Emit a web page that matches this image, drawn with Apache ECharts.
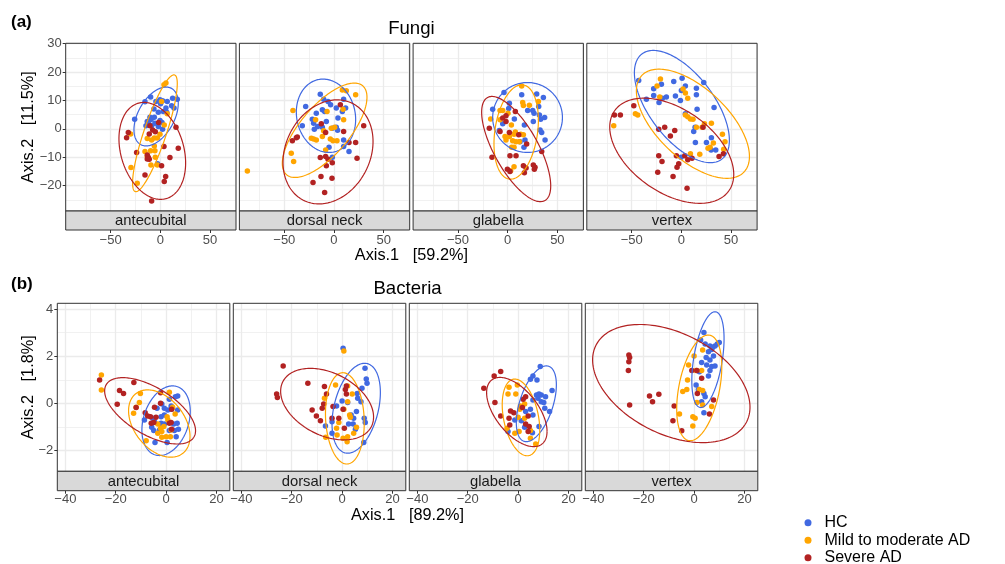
<!DOCTYPE html>
<html><head><meta charset="utf-8">
<script src="https://cdn.jsdelivr.net/npm/echarts@6/dist/echarts.min.js"></script>
<style>html,body{margin:0;padding:0;background:#fff}#c{width:1005px;height:564px}</style>
</head><body><div id="c"></div>
<script>
// ---------- categories ----------
const sites = ['antecubital', 'dorsal neck', 'glabella', 'vertex'];
const groups = ['HC', 'Mild to moderate AD', 'Severe AD'];

// ---------- tick labels ----------
const fungiXTicks = [-50, 0, 50];
const fungiXMinor = [-75, -25, 25, 75];
const fungiYTicks = [-20, -10, 0, 10, 20, 30];
const fungiYMinor = [-25, -15, -5, 5, 15, 25];
const bacteriaXTicks = [-40, -20, 0, 20];
const bacteriaXMinor = [-30, -10, 10];
const bacteriaYTicks = [-2, 0, 2, 4];
const bacteriaYMinor = [-1, 1, 3];

// ---------- Fungi points [Axis.1, Axis.2] ----------
const fungiAntecubitalHC = [[-25.8,3.4],[-15.4,9.5],[-9.7,11.2],[-4.4,9.6],[-0.3,10.2],[2.3,9.9],[0.3,8.8],[7.0,9.6],[12.4,10.8],[17.1,10.4],[11.4,8.1],[13.8,7.3],[5.7,7.3],[6.4,5.8],[3.0,6.1],[-6.4,7.0],[-2.0,5.8],[-6.0,4.1],[-10.4,4.1],[-13.1,2.6],[-9.7,3.2],[-12.1,2.2],[-14.4,1.1],[-8.7,1.1],[-0.3,2.9],[1.7,2.2],[-2.0,0.8],[2.3,-0.1],[-2.7,-12.3],[-8.7,3.6],[-5.4,2.0]];
const fungiAntecubitalMild = [[5.7,16.1],[3.7,15.5],[1.3,9.6],[7.0,5.3],[4.0,1.4],[-29.9,-1.8],[-13.1,-3.4],[-8.7,-3.9],[-6.0,-3.2],[-3.0,-3.2],[-0.3,-1.9],[-6.0,-6.0],[-15.4,-8.0],[-9.7,-7.7],[-5.4,-7.7],[-5.0,-10.0],[-9.4,-12.7],[-3.0,-12.7],[-29.5,-13.6],[-23.2,-19.1],[-13.1,-9.7]];
const fungiAntecubitalSevere = [[-32.2,-1.3],[-33.9,-3.1],[-23.8,-8.3],[-13.1,-9.2],[-12.1,-10.0],[-11.1,-10.7],[-13.1,-10.6],[-15.4,-16.2],[-10.4,1.1],[-7.7,-0.4],[-11.1,-1.8],[3.7,-6.2],[9.7,-10.1],[18.1,-6.8],[15.8,0.6],[1.3,-13.0],[5.4,-16.8],[4.0,-18.5],[-8.7,-25.4],[-1.7,2.2],[-5.0,-1.0]];

const fungiDorsalHC = [[-13.8,12.2],[-10.4,10.4],[-6.0,9.6],[-3.4,8.5],[-11.7,6.7],[-9.4,6.1],[-17.8,5.5],[-28.5,7.9],[2.3,7.3],[8.4,6.1],[9.7,10.4],[11.7,7.3],[-21.8,3.4],[-20.5,2.0],[-16.4,0.8],[-19.8,-0.1],[-11.7,0.6],[-7.7,2.6],[-1.7,0.2],[2.3,0.6],[4.0,3.8],[-31.9,1.1],[9.7,-3.9],[9.7,-6.2],[15.1,-8.0],[-5.0,-6.5],[-1.7,-10.0],[3.6,-0.5]];
const fungiDorsalMild = [[-87.2,-14.8],[-41.3,6.5],[-43.0,-8.6],[-40.6,-11.5],[8.4,13.7],[12.4,13.4],[21.8,12.0],[9.7,3.2],[-7.0,6.1],[-18.5,3.2],[-22.8,-3.3],[-20.5,-3.6],[-17.8,-3.9],[-11.7,-2.7],[-10.4,-0.7],[-2.7,0.2],[0.7,0.6],[-3.7,-3.6],[-1.0,-4.2],[3.0,-4.2],[-8.4,-7.4],[9.1,6.9]];
const fungiDorsalSevere = [[-36.9,-2.9],[-41.9,-4.2],[-37.9,-3.1],[-12.8,1.8],[-8.4,-1.3],[6.4,8.5],[9.7,-0.9],[29.9,1.1],[15.1,-4.8],[21.8,-4.8],[-8.4,-9.7],[-13.8,-10.1],[-6.0,-10.7],[-1.7,-11.9],[-7.7,-13.0],[23.2,-10.3],[-21.1,-18.9],[-13.1,-16.8],[-2.0,-17.4],[-9.4,-22.4]];

const fungiGlabellaHC = [[-3.7,12.8],[14.1,12.0],[29.2,12.3],[35.9,11.0],[1.7,9.0],[-15.1,6.9],[1.0,7.2],[20.1,6.5],[25.2,6.5],[26.5,5.5],[31.9,4.9],[33.2,3.4],[37.2,4.0],[25.8,2.6],[6.7,3.5],[16.8,1.4],[-5.0,1.8],[-8.4,-0.6],[32.6,-0.4],[34.2,-1.3],[37.6,-3.9],[17.4,-3.9],[16.4,-6.5],[12.4,-4.5],[31.2,7.9]];
const fungiGlabellaMild = [[14.1,15.1],[15.1,9.3],[15.8,8.2],[21.8,8.3],[30.9,9.6],[-7.7,6.5],[-5.0,6.5],[0.3,5.5],[-17.1,3.5],[-7.7,3.2],[3.7,1.4],[7.7,-1.1],[6.4,-1.9],[-2.7,-2.7],[1.7,-2.7],[-1.7,-3.9],[13.1,-1.9],[15.8,-2.1],[5.0,-4.2],[8.4,-4.5],[11.7,-4.5],[4.0,-6.5],[6.4,-6.5],[6.4,-13.3],[3.0,-14.7]];
const fungiGlabellaSevere = [[-18.5,0.2],[-5.0,3.8],[-1.7,2.6],[7.7,6.1],[-7.7,-0.9],[1.7,-1.3],[11.1,-2.1],[19.1,-5.3],[-15.8,-10.0],[2.3,-9.5],[8.4,-9.5],[-0.3,-14.2],[2.3,-15.0],[15.8,-13.0],[18.5,-13.8],[16.8,-15.4],[25.8,-12.7],[27.5,-13.5],[26.8,-14.2],[34.2,-8.0],[-1.7,4.6]];

const fungiVertexHC = [[-43.0,17.0],[-20.1,15.7],[-7.7,16.7],[0.7,17.8],[4.0,15.1],[15.1,14.3],[22.5,16.3],[-27.9,14.1],[-27.9,11.7],[-35.2,10.4],[-22.5,9.3],[-19.1,10.8],[-15.1,11.2],[-6.0,11.6],[-1.0,10.0],[0.0,13.5],[15.1,12.0],[15.8,6.9],[32.9,7.5],[12.4,-0.9],[13.8,0.6],[14.1,-4.8],[25.2,-4.8],[30.2,-3.1],[29.9,-7.4],[34.6,-7.4],[4.0,5.3],[-0.3,-10.0]];
const fungiVertexMild = [[-21.1,17.5],[-24.5,15.1],[1.7,14.0],[4.0,12.6],[6.4,10.8],[-21.8,11.2],[-46.3,5.3],[-43.9,4.9],[-68.1,1.1],[4.0,4.9],[6.4,4.3],[9.1,3.5],[11.7,3.4],[15.1,0.6],[23.2,1.8],[30.2,2.0],[20.8,0.6],[41.3,-1.9],[43.9,-4.5],[32.2,-5.0],[28.9,-6.5],[26.8,-6.8],[42.6,-7.2],[18.5,-8.9],[9.1,-8.8]];
const fungiVertexSevere = [[-67.4,4.9],[-61.4,4.9],[-47.9,8.1],[-22.8,-0.1],[-16.8,0.6],[-11.1,-2.5],[-6.7,-0.6],[21.8,0.6],[-22.8,-9.5],[-19.5,-11.5],[-23.8,-15.3],[-8.4,-16.8],[-5.0,-9.5],[-4.4,-13.5],[-2.7,-12.3],[3.4,-9.5],[6.4,-10.9],[10.7,-10.3],[5.7,-20.9],[37.9,-9.7],[42.3,-8.8]];

// ---------- Bacteria points ----------
const bacteriaAntecubitalHC = [[4.6,0.31],[3.7,0.28],[1.3,0.17],[-1.7,-0.03],[-3.6,-0.21],[-0.7,-0.21],[0.7,-0.28],[2.2,-0.25],[4.6,-0.28],[-8.6,-0.71],[-5.3,-0.64],[-4.6,-0.78],[-2.0,-0.85],[-1.3,-0.96],[-0.7,-0.88],[-5.7,-1.02],[-4.9,-1.16],[-4.4,-1.67],[0.4,-1.67],[1.3,-1.16],[3.3,-1.16],[4.0,-1.42],[4.9,-1.10],[3.0,-0.88],[4.4,-0.85],[-2.0,-0.57],[-0.7,-0.50],[2.0,-0.11],[-2.6,-1.13]];
const bacteriaAntecubitalMild = [[-25.7,1.20],[-25.7,0.57],[-10.2,0.42],[-10.6,0.03],[-11.9,-0.17],[-12.9,-0.42],[1.3,0.47],[2.6,-0.17],[3.6,-0.45],[0.4,-0.57],[-3.3,-0.88],[-2.2,-1.06],[-1.7,-1.20],[-0.9,-0.99],[0.0,-1.42],[-1.7,-1.44],[-3.3,-1.27],[-7.9,-1.59],[2.0,-1.13],[1.7,-1.42],[0.7,-0.71]];
const bacteriaAntecubitalSevere = [[-26.4,0.99],[-18.5,0.54],[-16.9,0.42],[-12.8,0.88],[-19.4,-0.04],[-11.9,-0.18],[-8.3,-0.40],[-7.3,-0.54],[-6.2,-0.57],[-4.6,-0.17],[-2.2,0.00],[-2.2,0.45],[-4.0,-0.59],[-5.9,-0.85],[-4.9,-0.82],[2.2,-0.25],[1.3,-0.85],[2.0,-0.82],[2.2,-1.10]];

const bacteriaDorsalHC = [[0.4,2.34],[9.1,1.49],[9.6,1.03],[9.9,0.85],[7.9,0.64],[6.0,0.42],[6.2,0.21],[7.5,0.07],[0.0,0.10],[2.2,0.03],[-2.2,-0.11],[5.7,-0.35],[4.6,-0.64],[8.8,-0.64],[9.2,-0.82],[-4.0,-0.78],[-6.6,-0.96],[2.6,-0.88],[4.4,-0.88],[5.3,-1.10],[-4.0,-1.27],[8.6,-1.67],[3.6,-0.50]];
const bacteriaDorsalMild = [[0.7,2.22],[-2.6,0.78],[2.2,0.74],[4.0,0.40],[-7.0,0.21],[2.2,0.07],[0.7,-0.25],[3.0,-0.50],[3.3,-0.59],[-1.3,-0.82],[-2.2,-1.06],[-2.0,-1.35],[0.4,-1.49],[2.2,-1.42],[2.0,-1.63],[4.6,-1.27],[5.7,-1.02],[-6.5,-1.44]];
const bacteriaDorsalSevere = [[-23.4,1.59],[-26.0,0.40],[-25.7,0.25],[-13.6,0.85],[-7.0,0.71],[-6.2,0.40],[-7.3,-0.03],[-3.6,-0.14],[-7.9,-0.21],[-11.9,-0.28],[-10.2,-0.54],[-8.6,-0.74],[-4.0,-0.64],[-1.3,-0.64],[1.7,0.74],[1.3,0.59],[1.7,0.40],[0.4,-0.25],[0.9,-1.06]];

const bacteriaGlabellaHC = [[8.8,1.56],[5.9,1.16],[7.5,0.99],[4.9,1.02],[13.5,0.54],[7.3,0.35],[8.3,0.40],[9.2,0.35],[10.9,0.28],[7.9,0.21],[9.2,0.07],[10.2,0.03],[5.9,0.14],[4.9,-0.25],[12.5,-0.35],[10.6,-0.21],[5.9,-0.50],[3.0,-0.35],[-1.3,-0.71],[1.3,-0.74],[3.0,-0.92],[8.3,-0.99],[2.6,-1.02],[5.7,-1.25],[-4.0,-1.20]];
const bacteriaGlabellaMild = [[-3.6,0.68],[-0.3,0.78],[-4.0,0.40],[-0.9,0.40],[0.9,-0.11],[2.6,-0.03],[0.7,-0.25],[2.6,-0.64],[0.0,-0.59],[-4.4,-1.06],[0.4,-1.20],[4.9,-1.16],[4.9,-1.49],[7.0,-1.73],[-1.3,-1.27]];
const bacteriaGlabellaSevere = [[-13.6,0.64],[-9.5,1.16],[-6.9,1.35],[-9.2,0.03],[-6.9,-0.54],[-3.0,-0.33],[-1.7,-0.40],[2.0,0.17],[3.0,0.28],[1.7,-0.18],[-3.6,-0.64],[-3.3,-0.92],[3.0,-0.88],[4.4,-0.99],[4.0,-0.54],[4.0,-1.20]];

const bacteriaVertexHC = [[3.9,3.01],[2.6,2.69],[4.4,2.52],[6.3,2.43],[7.4,2.38],[8.3,2.43],[9.2,2.52],[10.0,2.58],[7.0,2.29],[5.7,2.19],[4.8,1.95],[7.7,2.01],[6.3,1.84],[3.0,1.73],[5.0,1.63],[7.0,1.56],[8.3,1.59],[6.3,1.39],[5.7,1.16],[2.1,1.34],[0.8,0.78],[1.7,0.59],[3.9,0.42],[4.4,0.28],[3.0,0.07],[3.9,-0.40]];
const bacteriaVertexMild = [[3.4,2.26],[0.0,2.01],[-2.2,1.63],[0.8,1.39],[3.0,1.39],[-2.6,0.99],[-2.9,0.59],[2.1,0.59],[3.4,0.54],[-4.5,0.50],[1.1,0.03],[3.4,-0.07],[7.0,-0.14],[-5.8,-0.45],[-0.5,-0.57],[0.4,-0.64],[-0.5,-0.96]];
const bacteriaVertexSevere = [[-25.9,2.05],[-25.6,1.95],[-25.9,1.77],[-26.1,1.39],[-25.6,-0.07],[-17.7,0.31],[-14.0,0.38],[-16.5,0.07],[-7.9,-0.11],[-8.4,-0.74],[-4.9,-1.17],[1.1,1.39],[-0.9,1.39],[3.0,1.06],[1.3,0.42],[7.7,0.14],[6.1,-0.45]];

// ---------- 95% ellipses: [centre x, centre y, half-width x, half-height y, correlation] per group (HC, Mild, Severe) ----------
const fungiEllipseAntecubital = [[-4.2,4.35,22.3,10.35,0.45],[-5.4,-1.55,22.5,20.55,0.85],[-8.05,-7.75,33.55,17.05,-0.25]];
const fungiEllipseDorsal = [[-8.05,4.6,29.85,12.9,-0.1],[-9.4,-0.5,42.6,16.6,0.7],[-6.0,-8.1,45.3,18.3,0.2]];
const fungiEllipseGlabella = [[20.0,4.0,35.1,12.3,0.0],[8.55,-1.1,22.35,16.6,0.25],[8.55,-7.1,34.75,18.5,-0.7]];
const fungiEllipseVertex = [[0.5,7.85,47.8,19.75,-0.6],[11.6,1.8,56.9,19.2,-0.6],[-9.7,-7.7,62.4,18.5,-0.45]];
const bacteriaEllipseAntecubital = [[0,-0.74,9.6,1.48,0.27],[-2.7,-0.86,12.2,1.43,-0.38],[-6.35,-0.32,18.05,1.41,-0.6]];
const bacteriaEllipseDorsal = [[5.6,-0.21,9.6,1.91,0.35],[1.1,-0.64,7.7,1.94,-0.1],[-5.95,-0.035,18.45,1.52,-0.36]];
const bacteriaEllipseGlabella = [[7.25,-0.02,7.95,1.61,0.5],[1.15,-0.6,7.45,1.63,-0.33],[-0.5,-0.37,12.0,1.47,-0.56]];
const bacteriaEllipseVertex = [[5.5,1.855,6.4,2.035,0.44],[2.05,0.655,8.95,2.245,0.4],[-9.05,0.84,31.25,2.51,-0.4]];

// ---------- assembly ----------
const fungiPoints = [
  [fungiAntecubitalHC, fungiAntecubitalMild, fungiAntecubitalSevere],
  [fungiDorsalHC, fungiDorsalMild, fungiDorsalSevere],
  [fungiGlabellaHC, fungiGlabellaMild, fungiGlabellaSevere],
  [fungiVertexHC, fungiVertexMild, fungiVertexSevere]];
const bacteriaPoints = [
  [bacteriaAntecubitalHC, bacteriaAntecubitalMild, bacteriaAntecubitalSevere],
  [bacteriaDorsalHC, bacteriaDorsalMild, bacteriaDorsalSevere],
  [bacteriaGlabellaHC, bacteriaGlabellaMild, bacteriaGlabellaSevere],
  [bacteriaVertexHC, bacteriaVertexMild, bacteriaVertexSevere]];
const fungiEllipses = [fungiEllipseAntecubital, fungiEllipseDorsal, fungiEllipseGlabella, fungiEllipseVertex];
const bacteriaEllipses = [bacteriaEllipseAntecubital, bacteriaEllipseDorsal, bacteriaEllipseGlabella, bacteriaEllipseVertex];

const FONT = '"Liberation Sans", Arial, Helvetica, sans-serif';
const COLORS = ['#4169E1', '#FFA500', '#B22222'];

const rows = [
  {title: 'Fungi', tag: '(a)', xTitle: 'Axis.1   [59.2%]', yTitle: 'Axis.2   [11.5%]',
   points: fungiPoints, ellipses: fungiEllipses,
   xTicks: fungiXTicks, xMinor: fungiXMinor, yTicks: fungiYTicks, yMinor: fungiYMinor,
   xRange: [-95.2, 76.2], yRange: [-28.9, 30.1],
   left0: 65.7, step: 173.7, width: 170.3, top: 43.3, height: 167.7, strip: 19,
   xLabelMargin: 3.5, tagY: 22.5, titleY: 29.3, xTitleY: 255.5},
  {title: 'Bacteria', tag: '(b)', xTitle: 'Axis.1   [89.2%]', yTitle: 'Axis.2   [1.8%]',
   points: bacteriaPoints, ellipses: bacteriaEllipses,
   xTicks: bacteriaXTicks, xMinor: bacteriaXMinor, yTicks: bacteriaYTicks, yMinor: bacteriaYMinor,
   xRange: [-43.2, 25.3], yRange: [-2.89, 4.25],
   left0: 57.3, step: 176, width: 172.5, top: 303.3, height: 168, strip: 19.4,
   xLabelMargin: 1.8, tagY: 284.8, titleY: 288.8, xTitleY: 516}
];

const fmt = v => String(v).replace('-', '\u2212');
const grid = [], xAxis = [], yAxis = [], series = [], graphic = [];

function ellipseRender(color) {
  return function (params, api) {
    const cx = api.value(0), cy = api.value(1), sx = api.value(2), sy = api.value(3), r = api.value(4);
    const s = Math.sqrt(1 - r * r);
    const pts = [];
    for (let k = 0; k <= 180; k++) {
      const t = 2 * Math.PI * k / 180;
      pts.push(api.coord([cx + sx * Math.cos(t), cy + sy * (r * Math.cos(t) + s * Math.sin(t))]));
    }
    return {type: 'polyline', shape: {points: pts}, style: {stroke: color, fill: null, lineWidth: 1.2}};
  };
}

rows.forEach((row, ri) => {
  const cx0 = row.left0, cx1 = row.left0 + 3 * row.step + row.width;
  sites.forEach((site, si) => {
    const g = grid.length;
    const left = row.left0 + si * row.step;
    grid.push({left: left, top: row.top, width: row.width, height: row.height, show: false,
               containLabel: false, outerBoundsMode: 'none'});
    const splitMajor = {show: true, lineStyle: {color: '#EBEBEB', width: 1.3}};
    const splitMinor = {show: true, lineStyle: {color: '#EBEBEB', width: 0.7}};
    xAxis.push({gridIndex: g, type: 'value', position: 'bottom', min: row.xRange[0], max: row.xRange[1], offset: row.strip,
      axisLine: {show: false, onZero: false},
      axisTick: {show: true, length: 3, customValues: row.xTicks, lineStyle: {color: '#333333', width: 1}},
      axisLabel: {customValues: row.xTicks, margin: row.xLabelMargin, fontSize: 13, color: '#4D4D4D', fontFamily: FONT, formatter: fmt},
      splitLine: splitMajor});
    xAxis.push({gridIndex: g, type: 'value', position: 'top', min: row.xRange[0], max: row.xRange[1],
      axisLine: {show: false, onZero: false}, axisTick: {show: false, customValues: row.xMinor},
      axisLabel: {show: false, customValues: row.xMinor}, splitLine: splitMinor});
    yAxis.push({gridIndex: g, type: 'value', position: 'left', min: row.yRange[0], max: row.yRange[1],
      axisLine: {show: false, onZero: false},
      axisTick: {show: si === 0, length: 3, customValues: row.yTicks, lineStyle: {color: '#333333', width: 1}},
      axisLabel: {show: si === 0, customValues: row.yTicks, margin: 4, fontSize: 13, color: '#4D4D4D', fontFamily: FONT, formatter: fmt},
      splitLine: splitMajor});
    yAxis.push({gridIndex: g, type: 'value', position: 'right', min: row.yRange[0], max: row.yRange[1],
      axisLine: {show: false, onZero: false}, axisTick: {show: false, customValues: row.yMinor},
      axisLabel: {show: false, customValues: row.yMinor}, splitLine: splitMinor});

    groups.forEach((name, k) => {
      series.push({type: 'scatter', name: name, xAxisIndex: 2 * g, yAxisIndex: 2 * g,
        data: row.points[si][k], symbol: 'circle', symbolSize: 5.5, silent: true, z: 2,
        itemStyle: {color: COLORS[k], opacity: 1}, emphasis: {disabled: true}});
    });
    groups.forEach((name, k) => {
      series.push({type: 'custom', name: name + ' ellipse', xAxisIndex: 2 * g, yAxisIndex: 2 * g,
        data: [row.ellipses[si][k]], encode: {x: 0, y: 1}, silent: true, z: 3, clip: false,
        renderItem: ellipseRender(COLORS[k])});
    });

    // panel border, strip
    graphic.push({type: 'rect', z: 50, silent: true,
      shape: {x: left, y: row.top, width: row.width, height: row.height},
      style: {fill: null, stroke: '#333333', lineWidth: 1}});
    graphic.push({type: 'rect', z: 50, silent: true,
      shape: {x: left, y: row.top + row.height, width: row.width, height: row.strip},
      style: {fill: '#D9D9D9', stroke: '#333333', lineWidth: 1}});
    graphic.push({type: 'text', z: 51, silent: true,
      x: left + row.width / 2, y: row.top + row.height + row.strip / 2 + 0.5,
      style: {text: site, fill: '#1A1A1A', font: '14.8px ' + FONT, align: 'center', verticalAlign: 'middle'}});
  });
  const mid = (cx0 + cx1) / 2;
  graphic.push({type: 'text', z: 51, silent: true, x: 11, y: row.tagY,
    style: {text: row.tag, fill: '#000', font: 'bold 17px ' + FONT, align: 'left', verticalAlign: 'middle'}});
  graphic.push({type: 'text', z: 51, silent: true, x: mid, y: row.titleY,
    style: {text: row.title, fill: '#000', font: '18.6px ' + FONT, align: 'center', verticalAlign: 'middle'}});
  graphic.push({type: 'text', z: 51, silent: true, x: mid, y: row.xTitleY,
    style: {text: row.xTitle, fill: '#000', font: '16.3px ' + FONT, align: 'center', verticalAlign: 'middle'}});
  graphic.push({type: 'text', z: 51, silent: true, x: 28.5, y: row.top + row.height / 2, rotation: Math.PI / 2,
    style: {text: row.yTitle, fill: '#000', font: '16.3px ' + FONT, align: 'center', verticalAlign: 'middle'}});
});

const chart = echarts.init(document.getElementById('c'), null, {renderer: 'canvas'});
chart.setOption({
  animation: false,
  backgroundColor: '#ffffff',
  grid: grid, xAxis: xAxis, yAxis: yAxis, series: series,
  legend: {data: groups, orient: 'vertical', left: 804.5, top: 514.8, height: 60, padding: 0, icon: 'circle',
    itemWidth: 7, itemHeight: 7, itemGap: 1.5, selectedMode: false,
    textStyle: {fontSize: 16, fontFamily: FONT, color: '#000', lineHeight: 16, padding: [0, 0, 0, 8]}},
  graphic: {elements: graphic}
});
</script></body></html>
